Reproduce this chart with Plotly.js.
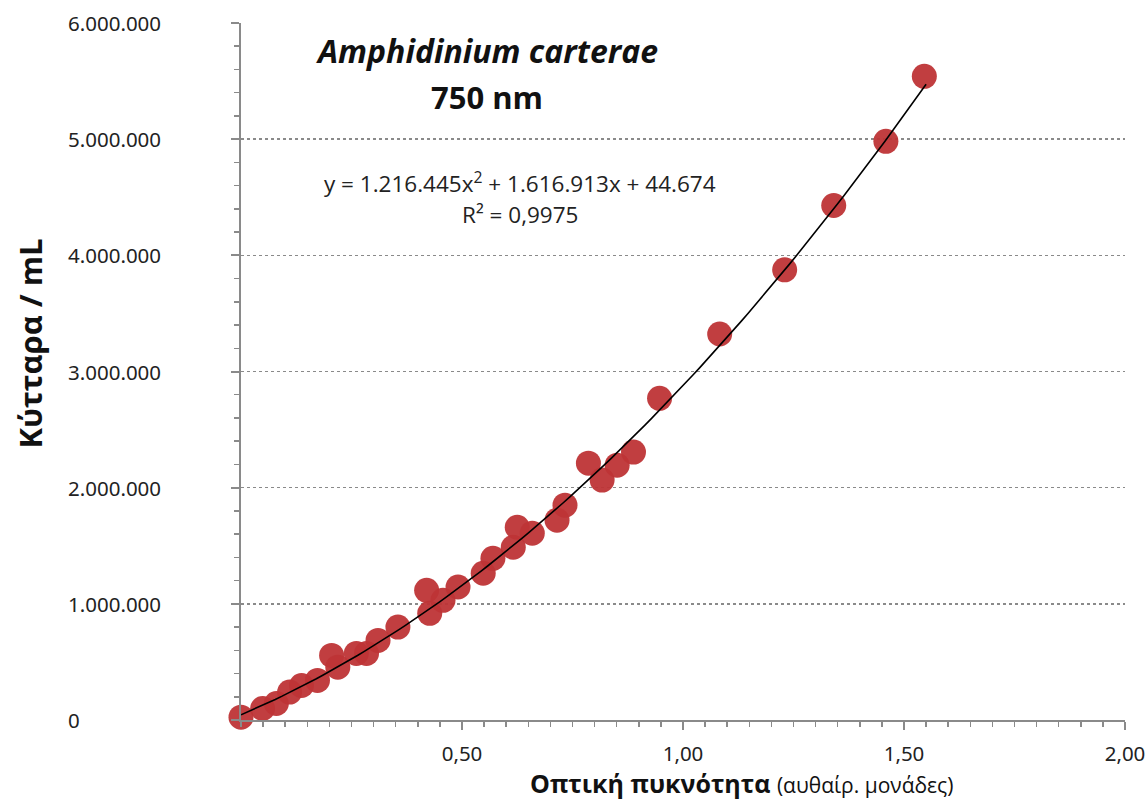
<!DOCTYPE html>
<html>
<head>
<meta charset="utf-8">
<script src="https://cdn.plot.ly/plotly-3.0.1.min.js"></script>
<style>html,body{margin:0;padding:0;background:#fff;}#chart{width:1145px;height:802px;}</style>
</head>
<body>
<div id="chart"></div>
<script>
// Optical density (arbitrary units)
const opticalDensity = [0.000, 0.049, 0.080, 0.110, 0.137, 0.173, 0.205, 0.219, 0.261, 0.284,
  0.310, 0.355, 0.420, 0.427, 0.457, 0.491, 0.548, 0.570, 0.616, 0.625,
  0.659, 0.715, 0.733, 0.786, 0.817, 0.851, 0.888, 0.947, 1.083, 1.230,
  1.341, 1.459, 1.546];
// Cells per mL
const cellsPerMl = [24000, 99000, 142000, 240000, 297000, 341000, 556000, 455000, 573000, 573000,
  685000, 800000, 1116000, 918000, 1030000, 1145000, 1263000, 1392000, 1487000, 1659000,
  1608000, 1720000, 1849000, 2211000, 2065000, 2194000, 2306000, 2769000, 3323000, 3875000,
  4429000, 4981000, 5541000];
// Polynomial trendline coefficients (from chart label)
const fitA = 1216445, fitB = 1616913, fitC = 44674;
const fitXRange = [0, 1.55];
const yTickVals = [0, 1000000, 2000000, 3000000, 4000000, 5000000, 6000000];
const yTickText = ["0", "1.000.000", "2.000.000", "3.000.000", "4.000.000", "5.000.000", "6.000.000"];
const xTickVals = [0.5, 1.0, 1.5, 2.0];
const xTickText = ["0,50", "1,00", "1,50", "2,00"];

const fitX = [], fitY = [];
for (let i = 0; i <= 100; i++) {
  const x = fitXRange[0] + (fitXRange[1] - fitXRange[0]) * i / 100;
  fitX.push(x);
  fitY.push(fitA * x * x + fitB * x + fitC);
}

const traces = [
  {
    x: opticalDensity, y: cellsPerMl, type: 'scatter', mode: 'markers',
    marker: {size: 25, color: 'rgba(190,52,54,0.95)', line: {width: 0}},
    cliponaxis: false, hoverinfo: 'x+y'
  },
  {
    x: fitX, y: fitY, type: 'scatter', mode: 'lines',
    line: {color: '#000', width: 1.6}, cliponaxis: false, hoverinfo: 'skip'
  }
];

const tickFont = {family: 'Noto Sans, Open Sans, sans-serif', size: 20.5, color: '#222'};
const annotations = yTickVals.map((v, i) => ({
  x: 0, xref: 'paper', y: v, yref: 'y', xanchor: 'left', yanchor: 'middle',
  xshift: -175, text: yTickText[i], showarrow: false, font: tickFont
}));
annotations.push(
  {x: 0.278, xref: 'paper', y: 1.0, yref: 'paper', yshift: -27, xanchor: 'center', yanchor: 'middle',
   text: '<b><i>Amphidinium carterae</i></b>', showarrow: false,
   font: {family: 'Open Sans, sans-serif', size: 32, color: '#111'}},
  {x: 0.278, xref: 'paper', y: 1.0, yref: 'paper', yshift: -74, xanchor: 'center', yanchor: 'middle',
   text: '<b>750 nm</b>', showarrow: false,
   font: {family: 'Open Sans, sans-serif', size: 31, color: '#111'}},
  {x: 0.316, xref: 'paper', y: 1.0, yref: 'paper', yshift: -159, xanchor: 'center', yanchor: 'middle',
   text: 'y = 1.216.445x<sup>2</sup> + 1.616.913x + 44.674', showarrow: false,
   font: {family: 'Open Sans, sans-serif', size: 22.5, color: '#222'}},
  {x: 0.316, xref: 'paper', y: 1.0, yref: 'paper', yshift: -191, xanchor: 'center', yanchor: 'middle',
   text: 'R² = 0,9975', showarrow: false,
   font: {family: 'Open Sans, sans-serif', size: 22.5, color: '#222'}},
  {x: 0, xref: 'paper', y: 0.5, yref: 'paper', xshift: -212, yshift: 28, xanchor: 'center', yanchor: 'middle',
   textangle: -90, text: '<b>Κύτταρα / mL</b>', showarrow: false,
   font: {family: 'Open Sans, sans-serif', size: 31, color: '#111'}},
  {x: 0.566, xref: 'paper', y: 0, yref: 'paper', yshift: -63, xanchor: 'center', yanchor: 'middle',
   text: '<b>Οπτική πυκνότητα</b> <span style="font-size:21px">(αυθαίρ. μονάδες)</span>', showarrow: false,
   font: {family: 'Open Sans, sans-serif', size: 25, color: '#111'}}
);

const layout = {
  width: 1145, height: 802,
  margin: {l: 241, r: 20, t: 23, b: 82},
  paper_bgcolor: '#fff', plot_bgcolor: '#fff',
  showlegend: false,
  separators: ',.',
  xaxis: {
    range: [0, 2], tickvals: xTickVals, ticktext: xTickText,
    showgrid: false, zeroline: false,
    showline: true, linecolor: '#8a8a8a', linewidth: 2,
    ticks: 'outside', ticklen: 8, tickwidth: 2, tickcolor: '#8a8a8a',
    minor: {dtick: 0.05, tick0: 0, ticks: 'outside', ticklen: 5, tickwidth: 1.5, tickcolor: '#8a8a8a', showgrid: false},
    tickfont: tickFont, ticklabelstandoff: 6, ticklabeloverflow: 'allow'
  },
  yaxis: {
    range: [0, 6000000], tickvals: yTickVals, showticklabels: false,
    showgrid: true, gridcolor: '#8a8a8a', griddash: 'dot', gridwidth: 1.5,
    zeroline: false,
    showline: true, linecolor: '#8a8a8a', linewidth: 2,
    ticks: 'outside', ticklen: 8, tickwidth: 2, tickcolor: '#8a8a8a',
    minor: {dtick: 200000, tick0: 0, ticks: 'outside', ticklen: 5, tickwidth: 1.5, tickcolor: '#8a8a8a', showgrid: false}
  },
  annotations: annotations
};

Plotly.newPlot('chart', traces, layout, {displayModeBar: false, staticPlot: true});
</script>
</body>
</html>
